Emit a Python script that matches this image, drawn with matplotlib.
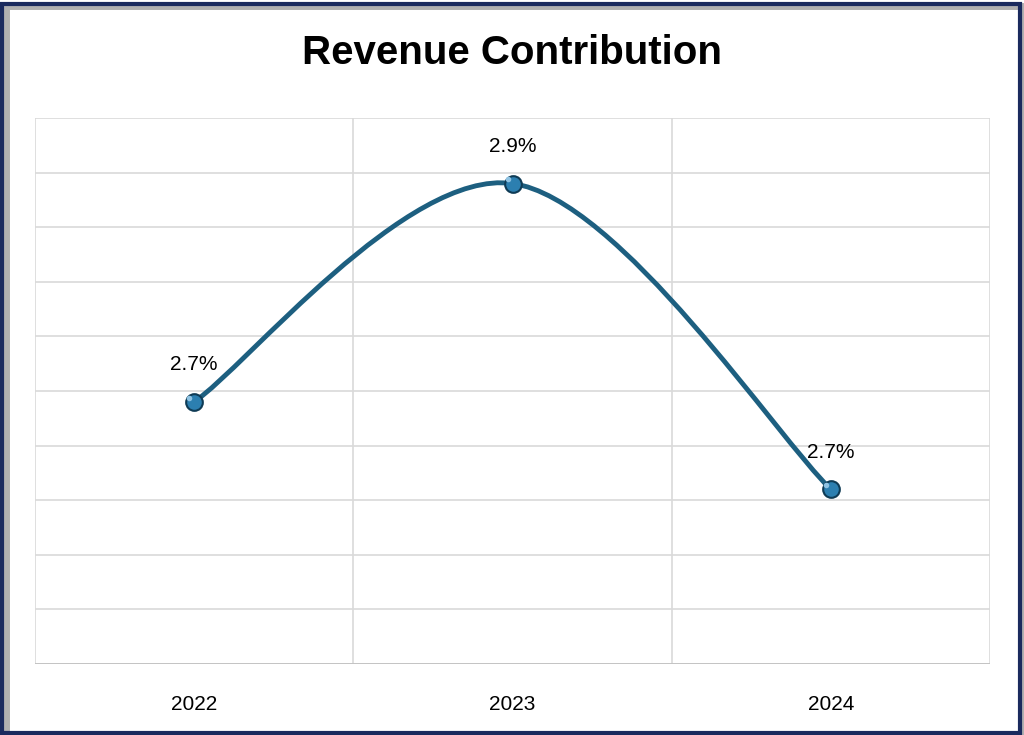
import matplotlib.pyplot as plt
import numpy as np
from matplotlib.patches import Rectangle
from matplotlib.path import Path
from matplotlib.patches import PathPatch

plt.rcParams['font.family'] = ['Liberation Sans', 'DejaVu Sans']

years = ['2022', '2023', '2024']
revenue_pct = [2.74, 2.94, 2.66]
labels = ['2.7%', '2.9%', '2.7%']

fig = plt.figure(figsize=(10.24, 7.35), dpi=100)
ax = fig.add_axes([35/1024, 1 - 664/735, 955/1024, 546/735])

x = np.arange(len(years))
ax.set_xlim(-0.5, 2.5)
ax.set_ylim(2.5, 3.0)
ax.set_yticks(np.linspace(2.5, 3.0, 11))
ax.set_yticklabels([])
ax.set_xticks([-0.5, 0.5, 1.5, 2.5], minor=False)
ax.set_xticklabels([])
ax.set_xticks(x, minor=True)
ax.set_xticklabels(years, minor=True, fontsize=15)
ax.tick_params(which='both', length=0, pad=22)
ax.grid(True, which='major', color='#d9d9d9', linewidth=1.2)
for s in ax.spines.values():
    s.set_visible(False)
ax.axhline(2.5, color='#bfbfbf', linewidth=1.2)

# smooth line (Catmull-Rom style bezier, like spreadsheet smoothing)
pts = np.column_stack([x, revenue_pct]).astype(float)
verts = [tuple(pts[0])]
codes = [Path.MOVETO]
for i in range(len(pts) - 1):
    p0 = pts[i - 1] if i > 0 else pts[i]
    p1, p2 = pts[i], pts[i + 1]
    p3 = pts[i + 2] if i + 2 < len(pts) else pts[i + 1]
    c1 = p1 + (p2 - p0) / 6
    c2 = p2 - (p3 - p1) / 6
    verts += [tuple(c1), tuple(c2), tuple(p2)]
    codes += [Path.CURVE4] * 3
ax.add_patch(PathPatch(Path(verts, codes), facecolor='none',
                       edgecolor='#1d5f80', linewidth=3.5, zorder=3))
ax.plot(x, revenue_pct, 'o', markersize=12, color='#2c7fb0',
        markeredgecolor='#0f3b55', markeredgewidth=1.5, zorder=4)
ax.plot(x - 0.015, np.array(revenue_pct) + 0.004, 'o', markersize=4,
        color='#8fc3e3', markeredgewidth=0, zorder=5)

for xi, yi, lab in zip(x, revenue_pct, labels):
    ax.annotate(lab, (xi, yi), xytext=(0, 20), textcoords='offset points',
                ha='center', va='bottom', fontsize=15)

fig.text(0.5, 1 - 53/735, 'Revenue Contribution', ha='center', va='center',
         fontsize=29, fontweight='bold')

# frame with shadow
fig.patches.append(Rectangle((6/1024, 0.0), 1 - 6/1024, 1 - 6/735,
                             transform=fig.transFigure, facecolor='none',
                             edgecolor='#b0b0b0', linewidth=5, zorder=0))
fig.patches.append(Rectangle((2/1024, 2/735), 1 - 6/1024, 1 - 6/735,
                             transform=fig.transFigure, facecolor='none',
                             edgecolor='#1a2a5e', linewidth=3, zorder=1))

fig.savefig('out.png', dpi=100)
